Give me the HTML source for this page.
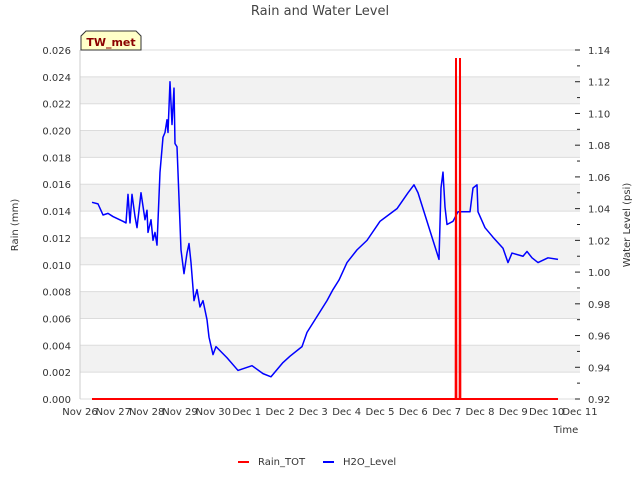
<!DOCTYPE html>
<html><head><meta charset="utf-8"><style>
body{margin:0;background:#fff;font-family:"Liberation Sans","DejaVu Sans",sans-serif}
svg text{font-family:"DejaVu Sans","Liberation Sans",sans-serif}
</style></head><body>
<svg id="chart" width="640" height="480" xmlns="http://www.w3.org/2000/svg">
<rect width="640" height="480" fill="#fff"/>
<g id="bands"></g><g id="grid"></g><g id="axes"></g><g id="series"></g>
<text x="320" y="15" text-anchor="middle" font-size="13" fill="#444">Rain and Water Level</text>
<text transform="translate(18,225) rotate(-90)" text-anchor="middle" font-size="10" fill="#333">Rain (mm)</text>
<text transform="translate(630,225) rotate(-90)" text-anchor="middle" font-size="10" fill="#333">Water Level (psi)</text>
<text x="566" y="433" text-anchor="middle" font-size="10" fill="#333">Time</text>
<g>
<path d="M81,50 L81,36 L86,31 L136,31 L141,36 L141,50 Z" fill="#ffffc8" stroke="#333" stroke-width="1"/>
<text x="111" y="46" text-anchor="middle" font-size="11" font-weight="bold" fill="#8b0000">TW_met</text>
</g>
<g>
<line x1="238" y1="462" x2="249" y2="462" stroke="#f00" stroke-width="2"/>
<text x="258" y="465" font-size="10" fill="#333">Rain_TOT</text>
<line x1="323" y1="462" x2="334" y2="462" stroke="#00f" stroke-width="2"/>
<text x="343" y="465" font-size="10" fill="#333">H2O_Level</text>
</g>
</svg>
<script>
const xTickLabels=["Nov 26","Nov 27","Nov 28","Nov 29","Nov 30","Dec 1","Dec 2","Dec 3","Dec 4","Dec 5","Dec 6","Dec 7","Dec 8","Dec 9","Dec 10","Dec 11"];
const leftTicks=["0.000","0.002","0.004","0.006","0.008","0.010","0.012","0.014","0.016","0.018","0.020","0.022","0.024","0.026"];
const rightTicks=["0.92","0.94","0.96","0.98","1.00","1.02","1.04","1.06","1.08","1.10","1.12","1.14"];
const h2oTime=[0.36,0.54,0.69,0.84,0.99,1.29,1.38,1.44,1.50,1.56,1.65,1.71,1.83,1.95,2.01,2.04,2.13,2.19,2.25,2.31,2.40,2.49,2.55,2.61,2.64,2.70,2.76,2.82,2.85,2.91,3.03,3.12,3.21,3.27,3.33,3.42,3.51,3.60,3.69,3.81,3.87,3.99,4.08,4.41,4.74,5.16,5.49,5.73,6.09,6.30,6.66,6.81,6.99,7.20,7.41,7.59,7.77,8.01,8.31,8.61,9.00,9.51,9.84,10.02,10.14,10.77,10.83,10.89,10.95,11.01,11.19,11.34,11.70,11.79,11.91,11.94,12.15,12.39,12.69,12.84,12.96,13.29,13.41,13.56,13.74,14.04,14.34];
const h2oLevel=[1.044,1.043,1.036,1.037,1.035,1.032,1.031,1.049,1.031,1.049,1.035,1.028,1.050,1.033,1.039,1.025,1.033,1.020,1.025,1.017,1.063,1.085,1.088,1.096,1.088,1.120,1.093,1.116,1.081,1.079,1.014,0.999,1.012,1.018,1.006,0.982,0.989,0.978,0.982,0.970,0.959,0.948,0.953,0.946,0.938,0.941,0.936,0.934,0.943,0.947,0.953,0.962,0.968,0.975,0.982,0.989,0.995,1.006,1.014,1.020,1.032,1.040,1.050,1.055,1.050,1.008,1.053,1.063,1.041,1.030,1.032,1.038,1.038,1.053,1.055,1.038,1.028,1.022,1.015,1.006,1.012,1.010,1.013,1.009,1.006,1.009,1.008];
const rainTime=[0.36,11.27,11.28,11.29,11.39,11.40,11.41,14.34];
const rainValue=[0,0,0.0254,0,0,0.0254,0,0];

const L=80,R=580,T=50,B=399;
const xS=d=>L+(R-L)*d/15;
const yL=v=>B-(B-T)*v/0.026;
const yR=v=>B-(B-T)*(v-0.92)/0.22;
const NS="http://www.w3.org/2000/svg";
function mk(tag,attrs,parent){const e=document.createElementNS(NS,tag);for(const k in attrs)e.setAttribute(k,attrs[k]);document.getElementById(parent).appendChild(e);return e;}

for(let i=0;i<leftTicks.length;i++){
  const v=parseFloat(leftTicks[i]);const y=yL(v);
  if(i%2===1&&i<leftTicks.length-1){
    const b=mk('rect',{x:L,y:yL(v+0.002),width:R-L,height:y-yL(v+0.002),fill:'#f2f2f2'},'bands');
    
    
  }
  const g=mk('line',{x1:L,x2:R,y1:y,y2:y,stroke:'#dcdcdc','stroke-width':1},'grid');
  
  
  const t=mk('text',{x:L-9,y:y+4,'text-anchor':'end','font-size':10,fill:'#333'},'axes');
  t.textContent=leftTicks[i];
  
  
}
mk('line',{x1:L,x2:L,y1:T,y2:B,stroke:'#ccc'},'axes');
for(let i=0;i<rightTicks.length;i++){
  const v=parseFloat(rightTicks[i]);const y=yR(v);
  const t=mk('text',{x:R+8,y:y+4,'font-size':10,fill:'#333'},'axes');
  t.textContent=rightTicks[i];
  
  
  mk('line',{x1:R-5,x2:R,y1:y,y2:y,stroke:'#222'},'axes');
  if(i<rightTicks.length-1){const ym=yR(v+0.01);mk('line',{x1:R-3,x2:R,y1:ym,y2:ym,stroke:'#222'},'axes');}
}
for(let i=0;i<xTickLabels.length;i++){
  const t=mk('text',{x:xS(i),y:415,'text-anchor':'middle','font-size':10,fill:'#333'},'axes');
  t.textContent=xTickLabels[i];
  
  
}
const h=mk('polyline',{points:h2oTime.map((d,i)=>xS(d)+','+yR(h2oLevel[i])).join(' '),fill:'none',stroke:'#0000ff','stroke-width':1.5,'stroke-linejoin':'round'},'series');


const r=mk('polyline',{points:rainTime.map((d,i)=>xS(d)+','+yL(rainValue[i])).join(' '),fill:'none',stroke:'#ff0000','stroke-width':2},'series');


</script>
</body></html>
